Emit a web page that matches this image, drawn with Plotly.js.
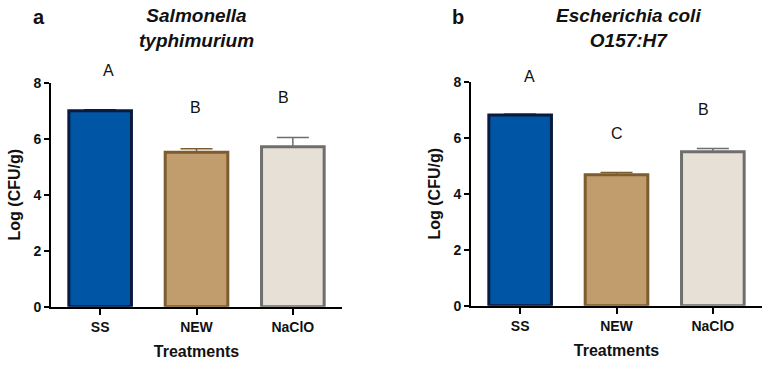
<!DOCTYPE html>
<html>
<head>
<meta charset="utf-8">
<script src="https://cdn.plot.ly/plotly-3.0.1.min.js"></script>
<style>
  html, body { margin: 0; padding: 0; background: #ffffff; }
  #chart { width: 769px; height: 369px; }
</style>
</head>
<body>
<div id="chart"></div>
<script>
// Bacterial counts after treatment (mean ± SD), Log CFU/g
const categories = ['SS', 'NEW', 'NaClO'];

const salmonellaMeans = [7.00, 5.52, 5.71];
const salmonellaErrors = [0.03, 0.12, 0.33];
const salmonellaLetters = ['A', 'B', 'B'];
const salmonellaLetterY = [8.45, 7.10, 7.46];

const ecoliMeans = [6.81, 4.68, 5.50];
const ecoliErrors = [0.03, 0.08, 0.11];
const ecoliLetters = ['A', 'C', 'B'];
const ecoliLetterY = [8.18, 6.16, 7.01];

const yTicks = [0, 2, 4, 6, 8];
const yMax = 8;

const fillColors = ['#0055a4', '#c19d6e', '#e6e0d6'];
const edgeColors = ['#0b1a3f', '#7d5c30', '#6e6e6e'];
const FONT = 'Liberation Sans, Arial, Helvetica, sans-serif';

function barTrace(values, xa, ya) {
  return {
    type: 'bar',
    x: categories,
    y: values,
    xaxis: xa,
    yaxis: ya,
    width: 0.65,
    marker: { color: fillColors, line: { color: edgeColors, width: 3 } },
    showlegend: false,
    hoverinfo: 'x+y'
  };
}

// upper error bars, each coloured like its bar's edge
function errorTraces(values, errors, xa, ya) {
  return categories.map((c, i) => ({
    type: 'scatter',
    mode: 'markers',
    x: [c],
    y: [values[i]],
    xaxis: xa,
    yaxis: ya,
    marker: { size: 1, color: 'rgba(0,0,0,0)' },
    error_y: { type: 'data', array: [errors[i]], arrayminus: [0], symmetric: false, visible: true,
               color: edgeColors[i], thickness: 1.5, width: 16 },
    showlegend: false,
    hoverinfo: 'skip'
  }));
}

const data = [
  barTrace(salmonellaMeans, 'x', 'y'),
  ...errorTraces(salmonellaMeans, salmonellaErrors, 'x', 'y'),
  barTrace(ecoliMeans, 'x2', 'y2'),
  ...errorTraces(ecoliMeans, ecoliErrors, 'x2', 'y2')
];

function xAxis(domain, anchor) {
  return {
    domain: domain,
    anchor: anchor,
    type: 'category',
    range: [-0.51, 2.51],
    showline: true, linecolor: '#000000', linewidth: 2,
    ticks: 'outside', ticklen: 6, tickwidth: 2, tickcolor: '#000000',
    tickfont: { family: FONT, size: 14, color: '#111111', weight: 700 },
    showgrid: false, zeroline: false,
    title: { text: 'Treatments', font: { family: FONT, size: 16, color: '#111111', weight: 700 }, standoff: 12 },
    fixedrange: true
  };
}

function yAxis(domain, anchor) {
  return {
    domain: domain,
    anchor: anchor,
    range: [0, yMax],
    tickvals: yTicks,
    showline: true, linecolor: '#000000', linewidth: 2,
    ticks: 'outside', ticklen: 5, tickwidth: 2, tickcolor: '#000000',
    tickfont: { family: FONT, size: 14, color: '#111111', weight: 700 },
    showgrid: false, zeroline: false,
    title: { text: 'Log (CFU/g)', font: { family: FONT, size: 16, color: '#111111', weight: 700 }, standoff: 9 },
    fixedrange: true
  };
}

const W = 769, H = 369;
const yDomA = [(H - 306.7) / H, (H - 82.7) / H];
const yDomB = [(H - 305.7) / H, (H - 81.7) / H];

// significance letters sit above the plotting range, so place them on the
// 'y domain' reference (fraction of the axis) to keep them visible
function letterNotes(letters, ys, xref, yref, shifts) {
  return letters.map((l, i) => ({
    x: i + shifts[i], y: ys[i] / yMax, xref: xref, yref: yref + ' domain',
    xanchor: 'center', yanchor: 'middle',
    text: l, showarrow: false,
    font: { family: FONT, size: 16, color: '#111111' }
  }));
}

function panelNote(x, y, text, size) {
  return {
    x: x / W, y: 1 - y / H, xref: 'paper', yref: 'paper',
    xanchor: 'center', yanchor: 'middle',
    text: text, showarrow: false,
    font: { family: FONT, size: size, color: '#111111', weight: 700 }
  };
}

const layout = {
  width: W,
  height: H,
  margin: { l: 0, r: 0, t: 0, b: 0 },
  paper_bgcolor: '#ffffff',
  plot_bgcolor: '#ffffff',
  xaxis: xAxis([51 / W, 342 / W], 'y'),
  yaxis: yAxis(yDomA, 'x'),
  xaxis2: xAxis([471 / W, 762 / W], 'y2'),
  yaxis2: yAxis(yDomB, 'x2'),
  annotations: [
    panelNote(39, 17, 'a', 20),
    panelNote(197, 28, '<i>Salmonella<br>typhimurium</i>', 19),
    panelNote(458, 17, 'b', 20),
    panelNote(628, 28, '<i>Escherichia coli<br>O157:H7</i>', 19),
    ...letterNotes(salmonellaLetters, salmonellaLetterY, 'x', 'y', [0.09, -0.01, -0.1]),
    ...letterNotes(ecoliLetters, ecoliLetterY, 'x2', 'y2', [0.1, 0.0, -0.1])
  ]
};

Plotly.newPlot('chart', data, layout, { displayModeBar: false, staticPlot: true });
</script>
</body>
</html>
